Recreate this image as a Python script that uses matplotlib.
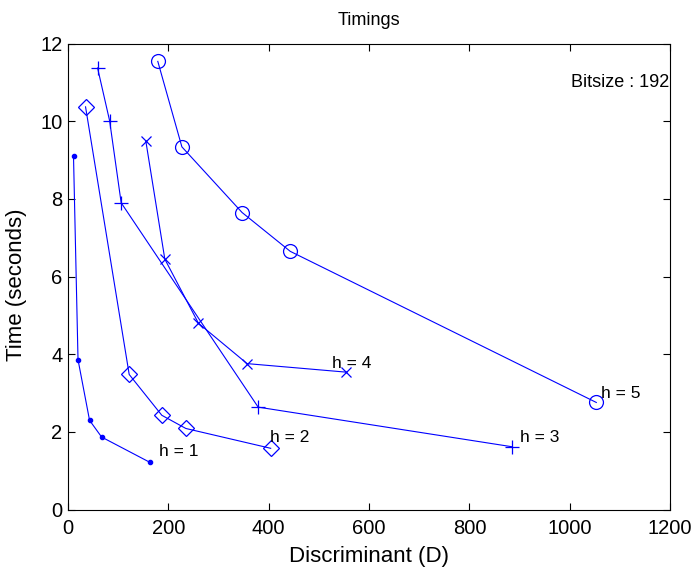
import matplotlib
matplotlib.use("Agg")
import matplotlib.pyplot as plt

plt.rcParams['font.family'] = ['Liberation Sans', 'DejaVu Sans']

# h = 1 .. 5 curves
d1 = [11, 20, 43, 67, 163]
t1 = [9.10, 3.86, 2.30, 1.87, 1.22]

d2 = [35, 122, 187, 235, 404]
t2 = [10.37, 3.48, 2.43, 2.09, 1.58]

d3 = [59, 83, 106, 379, 885]
t3 = [11.37, 10.01, 7.90, 2.64, 1.62]

d4 = [155, 193, 260, 357, 555]
t4 = [9.50, 6.45, 4.80, 3.76, 3.54]

d5 = [179, 227, 347, 443, 1053]
t5 = [11.54, 9.34, 7.65, 6.65, 2.76]

labels = ["h = 1", "h = 2", "h = 3", "h = 4", "h = 5"]
label_x = [181, 402, 901, 527, 1063]
label_y = [1.49, 1.86, 1.86, 3.77, 2.98]

fig = plt.figure(figsize=(6.98, 5.75), dpi=100)
ax = fig.add_axes([0.0974, 0.1136, 0.8626, 0.8107])

blue = (0, 0, 1)
ax.plot(d1, t1, color=blue, lw=0.8, marker='.', ms=6)
ax.plot(d2, t2, color=blue, lw=0.8, marker='D', ms=8, mfc='none', mew=0.9)
ax.plot(d3, t3, color=blue, lw=0.8, marker='+', ms=10, mew=0.9)
ax.plot(d4, t4, color=blue, lw=0.8, marker='x', ms=7.5, mew=0.9)
ax.plot(d5, t5, color=blue, lw=0.8, marker='o', ms=10, mfc='none', mew=0.9)

for lx, ly, s in zip(label_x, label_y, labels):
    ax.text(lx, ly, s, fontsize=12.5, va='center', ha='left')

ax.text(1003, 10.99, "Bitsize : 192", fontsize=13, va='center', ha='left')

ax.set_xlim(0, 1200)
ax.set_ylim(0, 12)
ax.set_xticks(range(0, 1201, 200))
ax.set_yticks(range(0, 13, 2))
ax.tick_params(direction='in', top=True, right=True, labelsize=14.5, length=5)
ax.tick_params(axis='x', pad=7)
ax.tick_params(axis='y', pad=4)
ax.set_xlabel("Discriminant (D)", fontsize=16)
ax.set_ylabel("Time (seconds)", fontsize=16)
ax.xaxis.set_label_coords(0.5, -0.078)
ax.yaxis.set_label_coords(-0.068, 0.482)
ax.set_title("Timings", fontsize=13, pad=13)

fig.savefig("out.png", dpi=100)
